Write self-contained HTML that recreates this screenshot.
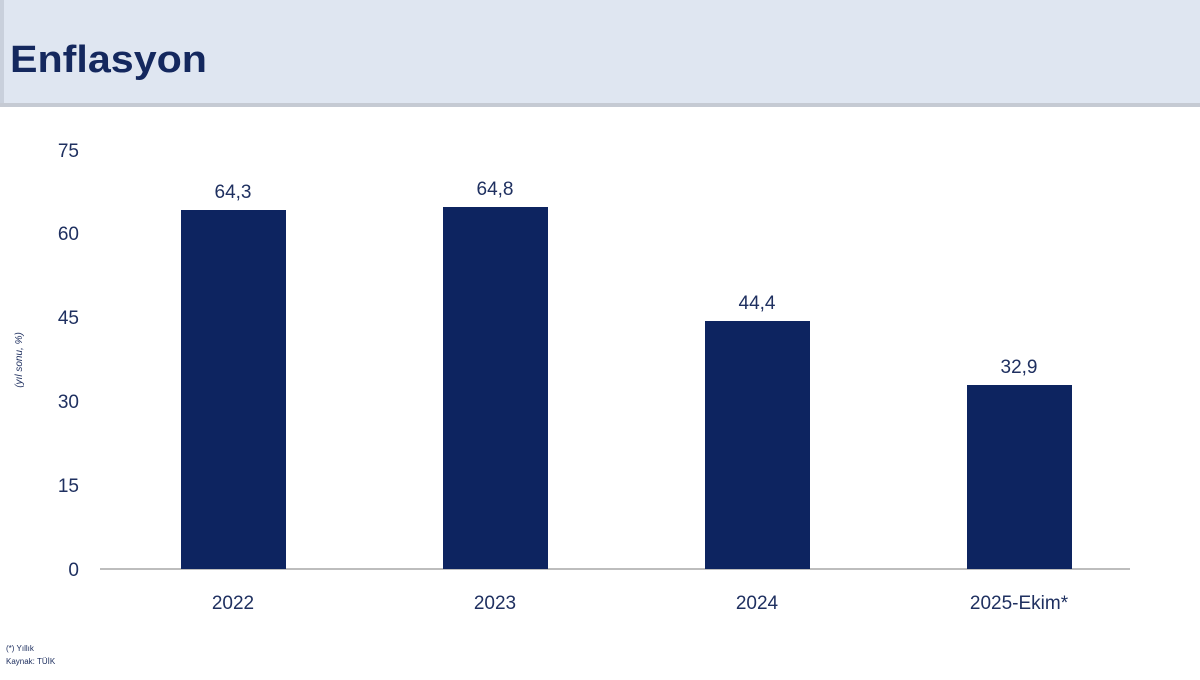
<!DOCTYPE html>
<html><head><meta charset="utf-8"><style>
body{margin:0;width:1200px;height:675px;background:#fff;overflow:hidden;font-family:"Liberation Sans",sans-serif;}
</style></head><body>
<svg width="1200" height="675" xmlns="http://www.w3.org/2000/svg" font-family="Liberation Sans, sans-serif">
<rect x="0" y="0" width="1200" height="104" fill="#dfe6f1"/>
<rect x="0" y="0" width="4" height="104" fill="#c9d0dc"/>
<rect x="0" y="103" width="1200" height="4" fill="#c5cad3"/>
<text x="10" y="72" font-size="38" font-weight="bold" fill="#14285e" textLength="197" lengthAdjust="spacingAndGlyphs">Enflasyon</text>
<g fill="#1f3060" font-size="19" text-anchor="end">
<text x="79" y="576">0</text><text x="79" y="492">15</text><text x="79" y="408">30</text>
<text x="79" y="324">45</text><text x="79" y="240">60</text><text x="79" y="157">75</text>
</g>
<text transform="translate(22,360) rotate(-90)" font-size="10" font-style="italic" fill="#1f3060" text-anchor="middle">(yıl sonu, %)</text>
<line x1="100" y1="569" x2="1130" y2="569" stroke="#bdbdbd" stroke-width="2"/>
<g fill="#0d2460">
<rect x="181" y="210" width="105" height="359"/>
<rect x="443" y="207" width="105" height="362"/>
<rect x="705" y="321" width="105" height="248"/>
<rect x="967" y="385" width="105" height="184"/>
</g>
<g fill="#1f3060" font-size="19" text-anchor="middle">
<text x="233" y="198">64,3</text><text x="495" y="195">64,8</text>
<text x="757" y="309">44,4</text><text x="1019" y="373">32,9</text>
<text x="233" y="609">2022</text><text x="495" y="609">2023</text>
<text x="757" y="609">2024</text><text x="1019" y="609">2025-Ekim*</text>
</g>
<text x="6" y="651" font-size="8" fill="#1f3060">(*) Yıllık</text>
<text x="6" y="664" font-size="8" fill="#1f3060">Kaynak: TÜİK</text>
</svg>
</body></html>
